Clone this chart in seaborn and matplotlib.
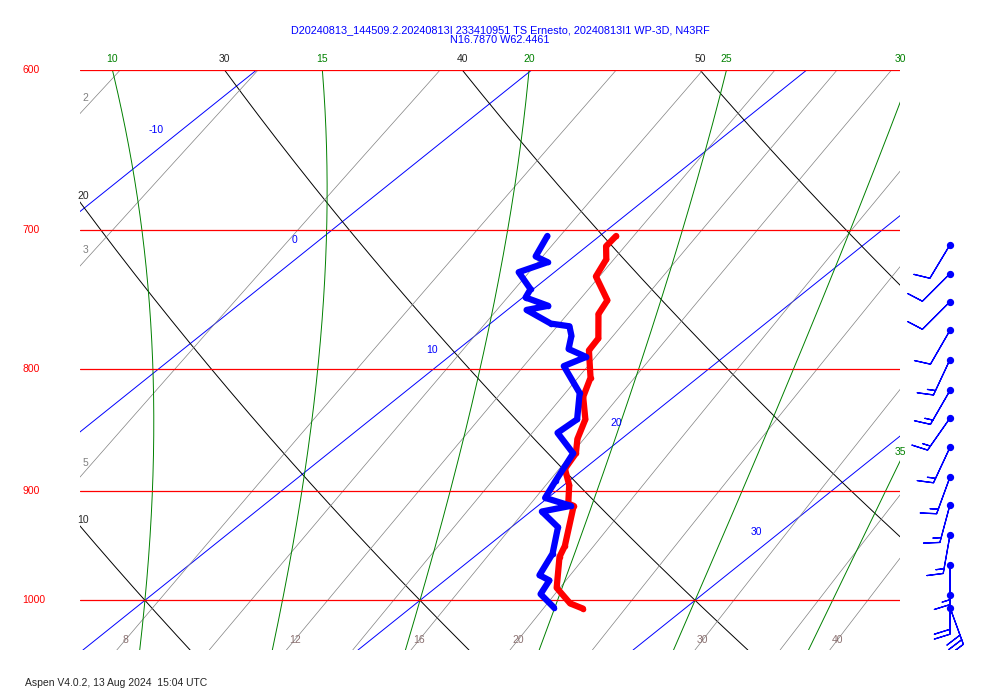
import numpy as np
import pandas as pd
import matplotlib
matplotlib.use("Agg")
import matplotlib.pyplot as plt
import seaborn as sns

# ---- data ----
pres = [1008, 1003, 988, 959, 949, 913, 911, 895, 881, 868, 856, 840, 822, 807, 786, 777, 759, 749, 732, 720, 711, 704]
temp = [26.3, 25.6, 24.4, 23.1, 22.8, 21.3, 21.0, 20.2, 19.3, 19.0, 18.4, 17.8, 16.7, 16.1, 14.8, 14.6, 13.5, 13.2, 11.7, 11.3, 10.7, 10.6]
dpres = [1007, 994, 981, 976, 956, 932, 918, 913, 906, 891, 868, 851, 840, 819, 798, 791, 785, 775, 768, 766, 756, 753, 747, 741, 729, 722, 718, 704]
dewp = [25.2, 24.1, 23.8, 23.2, 22.7, 21.7, 20.4, 21.2, 19.9, 19.5, 18.9, 17.4, 17.5, 16.4, 14.6, 15.0, 14.0, 13.5, 13.0, 12.2, 10.7, 11.3, 10.1, 9.9, 8.7, 9.3, 8.6, 8.1]
wind_p = [710, 730, 750, 771, 793, 817, 839, 863, 888, 912, 939, 967, 995, 1007]
wind_dir = [211, 225, 225, 210, 205, 210, 215, 205, 200, 195, 190, 180, 180, 160]
wind_spd = [10, 10, 10, 10, 15, 15, 15, 15, 15, 15, 15, 15, 20, 30]
isobars = [600, 700, 800, 900, 1000]
isotherms = list(range(-40, 60, 10))
iso_labels = {-10: 636, 0: 707, 10: 786, 20: 843, 30: 936}
thetas = list(range(-20, 90, 10))
theta_top_labels = [30, 40, 50]
theta_left_labels = [10, 20]
mix_ratios = [1, 2, 3, 5, 8, 10, 12, 14, 16, 20, 24, 30, 36, 40]
mix_bottom_labels = [8, 12, 16, 20, 30, 40]
mix_left_labels = [2, 3, 5]
moist_start = [10, 15, 20, 25, 30, 35]
title = "D20240813_144509.2.20240813I 233410951 TS Ernesto, 20240813I1 WP-3D, N43RF\nN16.7870 W62.4461"
footer = "Aspen V4.0.2, 13 Aug 2024  15:04 UTC"

SK = 47.1
PBOT, PTOP = 1049.0, 600.0
XL, XR = 7.64, 37.45

def sx(T, p):
    return np.asarray(T) + SK * np.log(1000.0 / np.asarray(p))

sns.set_style("white")
plt.rcParams['font.family'] = ['Liberation Sans', 'DejaVu Sans']
fig = plt.figure(figsize=(10, 7), dpi=100)
ax = fig.add_axes([0.08, 1 - 650 / 700, 0.82, (650 - 70) / 700])

pp = np.geomspace(PTOP, PBOT, 200)
fs = 7.5
PLAB = PTOP * 0.994

for T in isotherms:
    ax.plot(sx(np.full_like(pp, T), pp), pp, color='blue', lw=0.7)
for T, p in iso_labels.items():
    ax.text(sx(T, p) - 0.9, p, str(T), color='blue', fontsize=fs, ha='center', va='center')

def theta_T(th, p):
    return (th + 273.15) * (p / 1000.0) ** 0.2857 - 273.15
for th in thetas:
    ax.plot(sx(theta_T(th, pp), pp), pp, color='black', lw=0.7)
for th in theta_top_labels:
    ax.text(sx(theta_T(th, PTOP), PTOP), PLAB, str(th), fontsize=fs, ha='center', va='bottom', clip_on=False)

def left_p(xfun):
    vals = xfun(pp) - XL
    return pp[np.argmin(np.abs(vals))]
for th in theta_left_labels:
    p = left_p(lambda q: sx(theta_T(th, q), q))
    ax.text(XL - 0.1, p, str(th), fontsize=fs, ha='left', va='bottom')

def td_w(w, p):
    e = w * p / (622.0 + w)
    a = np.log(e / 6.112)
    return 243.5 * a / (17.67 - a)
for w in mix_ratios:
    ax.plot(sx(td_w(w, pp), pp), pp, color='gray', lw=0.5)
for w in mix_bottom_labels:
    ax.text(sx(td_w(w, 1039), 1039), 1039, str(w), color='#8a7070', fontsize=fs, ha='center', va='center')
for w in mix_left_labels:
    p = left_p(lambda q: sx(td_w(w, q), q))
    ax.text(XL + 0.2, p * 0.99, str(w), color='gray', fontsize=fs, ha='center', va='bottom')

L, R, cp, eps = 2.5e6, 287.0, 1005.0, 0.622
def integ(T0, ps):
    T = T0 + 273.15
    out = [T0]
    for i in range(1, len(ps)):
        p = ps[i - 1]
        es = 6.112 * np.exp(17.67 * (T - 273.15) / (T - 29.65))
        rs = eps * es / (p - es)
        dTdp = (R * T + L * rs) / (p * (cp + L * L * rs * eps / (R * T * T)))
        T += dTdp * (ps[i] - p)
        out.append(T - 273.15)
    return np.array(out)
for T0 in moist_start:
    up = np.geomspace(1000, PTOP, 400)
    dn = np.geomspace(1000, PBOT, 30)
    mp = np.concatenate([dn[::-1], up[1:]])
    mt = np.concatenate([integ(T0, dn)[::-1], integ(T0, up)[1:]])
    xs = sx(mt, mp)
    ax.plot(xs, mp, color='green', lw=0.7)
    if xs[-1] < XR + 1.5:
        ax.text(min(xs[-1], XR), PLAB, str(T0), color='green', fontsize=fs, ha='center', va='bottom', clip_on=False)
    else:
        i = np.argmin(np.abs(xs - XR))
        ax.text(XR, mp[i] * 0.995, str(T0), color='green', fontsize=fs, ha='center', va='bottom', clip_on=False)

for p in isobars:
    ax.axhline(p, color='red', lw=0.9)
    ax.text(-0.07, p, str(p), transform=ax.get_yaxis_transform(), color='red', fontsize=fs, ha='left', va='center')

dft = pd.DataFrame({'x': sx(temp, pres), 'p': pres})
dfd = pd.DataFrame({'x': sx(dewp, dpres), 'p': dpres})
sns.lineplot(data=dft, x='x', y='p', sort=False, color='red', lw=4.5, ax=ax,
             solid_capstyle='round', solid_joinstyle='round', marker='o', markersize=4, markeredgewidth=0)
sns.lineplot(data=dfd, x='x', y='p', sort=False, color='blue', lw=4.5, ax=ax,
             solid_capstyle='round', solid_joinstyle='round', marker='o', markersize=4, markeredgewidth=0)
ax.set_yscale('log'); ax.set_ylim(PBOT, PTOP); ax.set_xlim(XL, XR); ax.axis('off')

bx = fig.add_axes([0.9, 1 - 650 / 700, 0.1, (650 - 70) / 700], sharey=ax)
bx.axis('off')
bx.set_xlim(0, 1)
d = np.deg2rad(wind_dir)
u = -np.array(wind_spd) * np.sin(d)
v = -np.array(wind_spd) * np.cos(d)
bx.barbs(np.full(len(wind_p), 0.5), wind_p, u, v, color='blue', length=7.5, lw=0.9)
bx.scatter(np.full(len(wind_p), 0.5), wind_p, color='blue', s=18, zorder=3)
bx.set_ylim(PBOT, PTOP)

fig.text(0.5, 0.936, title, ha='center', va='bottom', color='blue', fontsize=7.8, linespacing=0.9)
fig.text(0.025, 0.024, footer, fontsize=7.5, ha='left', va='center')
fig.savefig('out.png', dpi=100, facecolor='white')
